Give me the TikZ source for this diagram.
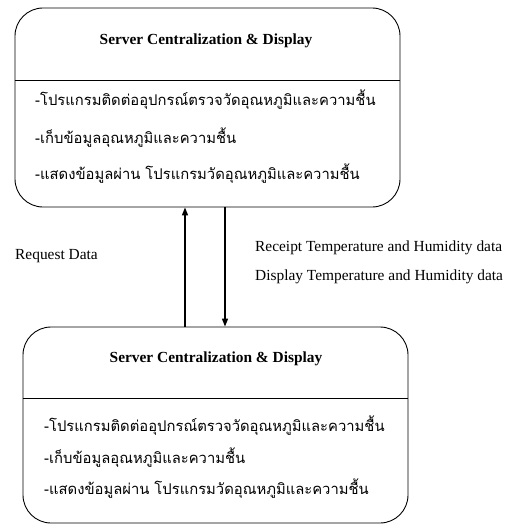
\documentclass[tikz,border=0pt]{standalone}
\usepackage{fontspec}
\setmainfont{Liberation Serif}
\newfontfamily\thaifont[Script=Thai]{Loma}
\usetikzlibrary{arrows.meta}

\begin{document}
\begin{tikzpicture}[x=1pt,y=-1pt,
    serverbox/.style={draw,line width=0.9pt,rounded corners=28pt,inner sep=0pt},
    boxtitle/.style={inner sep=0pt,font=\fontsize{15.4}{17}\selectfont\bfseries},
    boxitem/.style={anchor=west,inner sep=0pt,font=\thaifont\fontsize{14.8}{17}\selectfont},
    flowtext/.style={anchor=west,inner sep=0pt,font=\fontsize{15.4}{17}\selectfont},
    flow/.style={-{Triangle[length=8pt,width=6pt]},line width=1.4pt}]
  \useasboundingbox (0,0) rectangle (509,524);

  \node[serverbox,minimum width=385pt,minimum height=199pt] (top) at (207.5,107.5) {};
  \node[boxtitle] (toptitle) at (206,41) {Server Centralization \& Display};
  \draw[line width=0.9pt] ([yshift=-73pt]top.north west) -- ([yshift=-73pt]top.north east);
  \node[boxitem] (topa) at (35,100) {-โปรแกรมติดต่ออุปกรณ์ตรวจวัดอุณหภูมิและความชื้น};
  \node[boxitem] (topb) at (35,138) {-เก็บข้อมูลอุณหภูมิและความชื้น};
  \node[boxitem] (topc) at (35,174) {-แสดงข้อมูลผ่าน โปรแกรมวัดอุณหภูมิและความชื้น};

  \node[serverbox,minimum width=385pt,minimum height=196pt] (bot) at (215.5,425) {};
  \node[boxtitle] (bottitle) at (216,359) {Server Centralization \& Display};
  \draw[line width=0.9pt] ([yshift=-72pt]bot.north west) -- ([yshift=-72pt]bot.north east);
  \node[boxitem] (bota) at (44,426) {-โปรแกรมติดต่ออุปกรณ์ตรวจวัดอุณหภูมิและความชื้น};
  \node[boxitem] (botb) at (44,458) {-เก็บข้อมูลอุณหภูมิและความชื้น};
  \node[boxitem] (botc) at (44,489) {-แสดงข้อมูลผ่าน โปรแกรมวัดอุณหภูมิและความชื้น};

  \coordinate (reqx) at (185,0);
  \coordinate (rcvx) at (225,0);
  \draw[flow] (reqx |- bot.north) -- (reqx |- top.south);
  \draw[flow] (rcvx |- top.south) -- (rcvx |- bot.north);

  \node[flowtext] (req) at (15,256) {Request Data};
  \node[flowtext] (rcv) at (255,248) {Receipt Temperature and Humidity data};
  \node[flowtext] (dsp) at (255,277) {Display Temperature and Humidity data};
\end{tikzpicture}
\end{document}
